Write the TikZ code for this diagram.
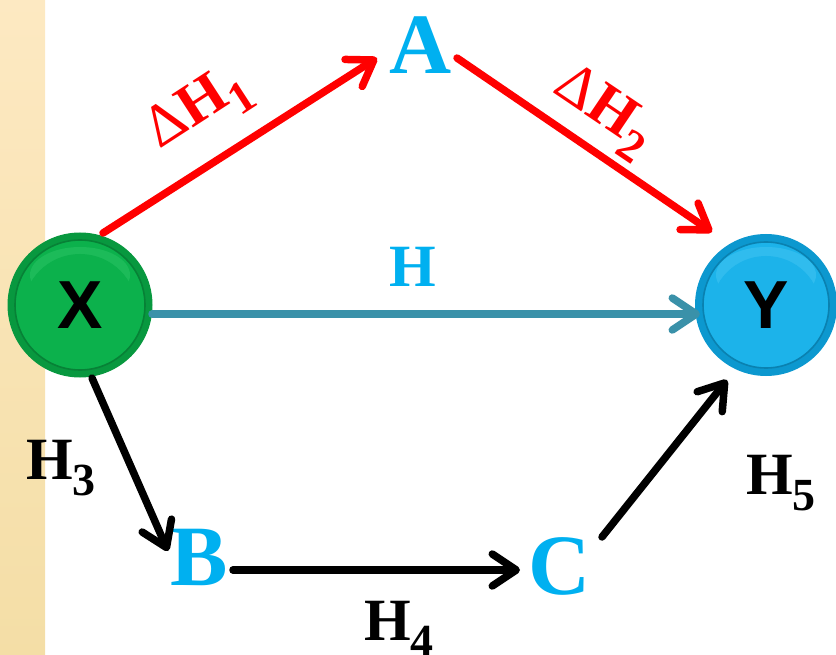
\documentclass[tikz,border=0pt]{standalone}
\usepackage{fontspec}
\setmainfont{Liberation Serif}
\newfontfamily\arialf{Liberation Sans}
\usetikzlibrary{arrows.meta}
\definecolor{redarr}{HTML}{FF0000}
\definecolor{tealarr}{HTML}{3A91A9}
\definecolor{letterblue}{HTML}{00B0F0}
\definecolor{greenedge}{HTML}{08983F}
\definecolor{greenmain}{HTML}{0CB14C}
\definecolor{greenlite}{HTML}{2CC566}
\definecolor{blueedge}{HTML}{0C98CF}
\definecolor{bluemain}{HTML}{1CB3EA}
\definecolor{bluelite}{HTML}{45C6F2}
\definecolor{stripTop}{HTML}{FDE9C2}
\definecolor{stripBot}{HTML}{F4DEA6}
\newcommand\Hsub[1]{H\raisebox{-0.27em}{\fontsize{46}{46}\selectfont #1}}
\newcommand\dHsub[1]{{\mdseries Δ}H\raisebox{-0.27em}{\fontsize{46}{46}\selectfont #1}}
\begin{document}
\begin{tikzpicture}[x=1pt,y=-1pt,
  arr/.style={line width=7.5pt, line cap=round,
    -{Straight Barb[length=24pt,width=32pt,line cap=round,line join=round]}},
  letter/.style={text=letterblue, font=\fontsize{86}{86}\selectfont\bfseries, inner sep=0pt},
  lab/.style={font=\fontsize{60}{60}\selectfont\bfseries, inner sep=0pt},
  ball/.style={circle, inner sep=0pt, minimum size=#1,
    font=\arialf\fontsize{68}{68}\selectfont\bfseries, text=black}
]
\useasboundingbox (0,0) rectangle (836,655);
\shade[top color=stripTop, bottom color=stripBot] (0,0) rectangle (45,655);

% balls
\node[ball=145pt, fill=greenedge,
  path picture={
    \fill[greenmain] (path picture bounding box.center) circle (65);
    \draw[greenedge!85!black, line width=1.6pt] (path picture bounding box.center) circle (65);
    \fill[greenlite, opacity=0.5] ([shift={(0,-30)}]path picture bounding box.center) ellipse (50 and 28);
    \fill[greenmain] ([shift={(0,6)}]path picture bounding box.center) circle (57);
  }] (X) at (80,305) {X};
\node[ball=142pt, fill=blueedge,
  path picture={
    \fill[bluemain] (path picture bounding box.center) circle (63);
    \draw[blueedge!85!black, line width=1.6pt] (path picture bounding box.center) circle (63);
    \fill[bluelite, opacity=0.5] ([shift={(0,-30)}]path picture bounding box.center) ellipse (50 and 28);
    \fill[bluemain] ([shift={(0,6)}]path picture bounding box.center) circle (55);
  }] (Y) at (766,305) {Y};

% letters
\node[letter] (A) at (421,45) {A};
\node[letter] (B) at (199,557) {B};
\node[letter] (C) at (560,566) {C};

% arrows
\draw[arr, redarr] ([shift={(23,-72)}]X.center) -- ([shift={(-44,13)}]A.center);
\draw[arr, redarr] ([shift={(36,13)}]A.center) -- ([shift={(-54,-73)}]Y.center);
\draw[arr, tealarr] ([shift={(72,9)}]X.center) -- ([shift={(-66,9)}]Y.center);
\draw[arr, black] ([shift={(12,73)}]X.center) -- ([shift={(-31,-6)}]B.center);
\draw[arr, black] ([shift={(34,13)}]B.center) -- ([shift={(-40,4)}]C.center);
\draw[arr, black] ([shift={(42,-29)}]C.center) -- ([shift={(-39,75)}]Y.center);

% labels
\node[lab, text=redarr, rotate=33] (l1) at (199,110) {\dHsub{1}};
\node[lab, text=redarr, rotate=-34] (l2) at (603,112) {\dHsub{2}};
\node[lab, text=letterblue] (lH) at (413,267) {H};
\node[lab] (l3) at (61,468) {\Hsub{3}};
\node[lab] (l4) at (399,629) {\Hsub{4}};
\node[lab] (l5) at (781,483) {\Hsub{5}};
\end{tikzpicture}
\end{document}
